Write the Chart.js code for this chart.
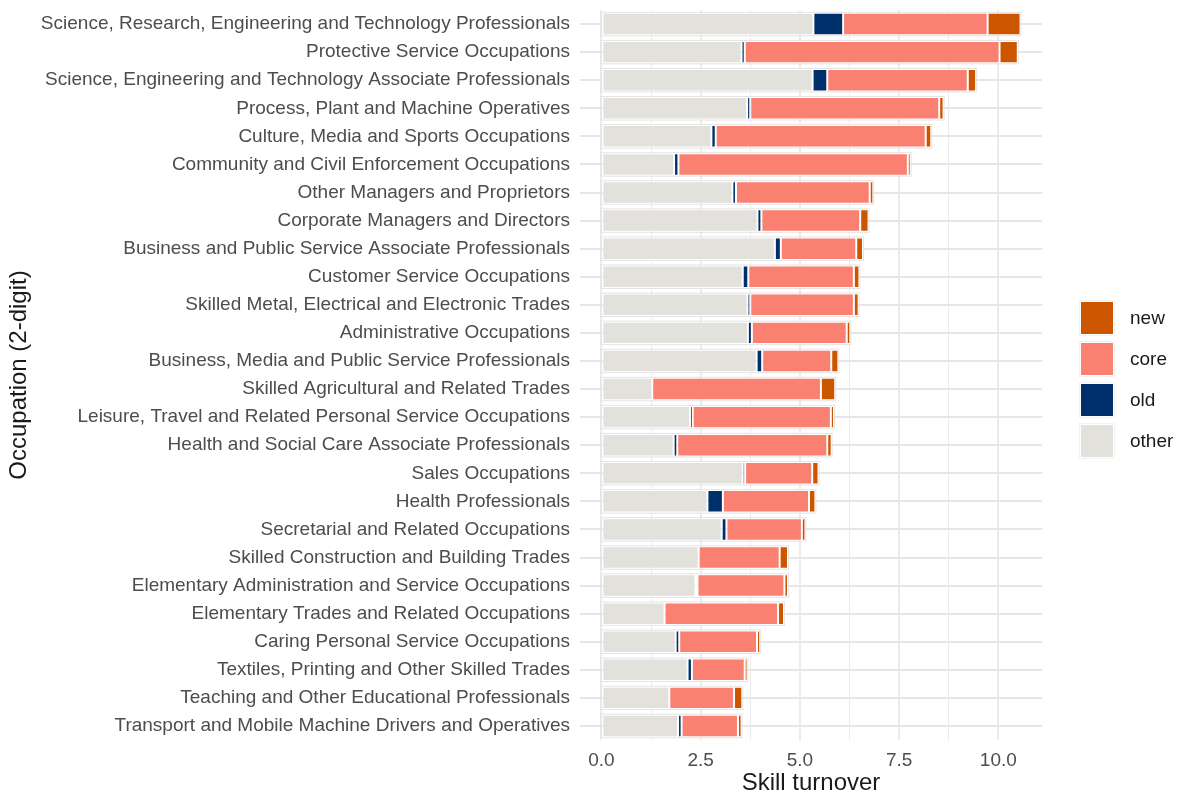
<!DOCTYPE html>
<html>
<head>
<meta charset="utf-8">
<title>Skill turnover by occupation</title>
<style>
*{padding:0;margin:0;box-sizing:border-box}
body{background:#ffffff;width:1187px;height:798px;overflow:hidden;font-family:"Liberation Sans", Arial, sans-serif}
.wrapper{position:absolute;left:0;top:0;width:1187px;height:798px}
.legend{position:absolute;left:1079px;top:300px}
.legend .item{position:relative;height:41px}
.legend .key{position:absolute;left:0;top:0;width:36px;height:36px;border:1px solid #f2f2f2;box-shadow:inset 0 0 0 1px #ffffff}
.legend .label{position:absolute;left:51px;top:0;line-height:36px;font-size:19px;color:#1a1a1a;white-space:nowrap}
</style>
</head>
<body>
<div class="wrapper">
<canvas id="myChart" width="1187" height="798"></canvas>
<div class="legend" id="legend"></div>
</div>
<script src="https://cdn.jsdelivr.net/npm/chart.js"></script>
<script>
// occupations, top to bottom
const occupations = [
  'Science, Research, Engineering and Technology Professionals',
  'Protective Service Occupations',
  'Science, Engineering and Technology Associate Professionals',
  'Process, Plant and Machine Operatives',
  'Culture, Media and Sports Occupations',
  'Community and Civil Enforcement Occupations',
  'Other Managers and Proprietors',
  'Corporate Managers and Directors',
  'Business and Public Service Associate Professionals',
  'Customer Service Occupations',
  'Skilled Metal, Electrical and Electronic Trades',
  'Administrative Occupations',
  'Business, Media and Public Service Professionals',
  'Skilled Agricultural and Related Trades',
  'Leisure, Travel and Related Personal Service Occupations',
  'Health and Social Care Associate Professionals',
  'Sales Occupations',
  'Health Professionals',
  'Secretarial and Related Occupations',
  'Skilled Construction and Building Trades',
  'Elementary Administration and Service Occupations',
  'Elementary Trades and Related Occupations',
  'Caring Personal Service Occupations',
  'Textiles, Printing and Other Skilled Trades',
  'Teaching and Other Educational Professionals',
  'Transport and Mobile Machine Drivers and Operatives',
];

const otherValues = [5.34, 3.53, 5.32, 3.67, 2.77, 1.83, 3.30, 3.93, 4.37, 3.56, 3.68, 3.69, 3.91, 1.28, 2.23, 1.82, 3.56, 2.67, 3.03, 2.45, 2.37, 1.59, 1.87, 2.17, 1.71, 1.93];
const oldValues   = [0.75, 0.08, 0.37, 0.08, 0.11, 0.11, 0.09, 0.10, 0.15, 0.14, 0.07, 0.10, 0.14, 0.00, 0.07, 0.09, 0.06, 0.39, 0.12, 0.00, 0.05, 0.00, 0.09, 0.11, 0.00, 0.09];
const coreValues  = [3.64, 6.42, 3.54, 4.76, 5.29, 5.78, 3.37, 2.49, 1.90, 2.66, 2.61, 2.39, 1.74, 4.25, 3.48, 3.78, 1.69, 2.17, 1.90, 2.04, 2.19, 2.86, 1.96, 1.33, 1.63, 1.42];
const newValues   = [0.83, 0.46, 0.21, 0.11, 0.14, 0.07, 0.09, 0.21, 0.17, 0.14, 0.12, 0.09, 0.18, 0.36, 0.08, 0.11, 0.16, 0.16, 0.09, 0.21, 0.09, 0.15, 0.08, 0.07, 0.21, 0.09];

const seriesNames = ['other', 'old', 'core', 'new'];
const seriesColors = ['#E2E1DC', '#00306B', '#FA8072', '#CC5500'];

const majorTicks = [0, 2.5, 5, 7.5, 10];
const gridTicks = [0, 1.25, 2.5, 3.75, 5, 6.25, 7.5, 8.75, 10];

const xTitle = 'Skill turnover';
const yTitle = 'Occupation (2-digit)';

const seriesValues = [otherValues, oldValues, coreValues, newValues];
const totals = occupations.map((_, i) => seriesValues.reduce((s, arr) => s + arr[i], 0));

const datasets = seriesNames.map((name, k) => ({
  label: name,
  data: seriesValues[k],
  backgroundColor: seriesColors[k],
  borderColor: '#ffffff',
  borderWidth: 1,
  borderSkipped: false,
  barPercentage: 0.8,
  categoryPercentage: 1,
}));

// faint outline round each whole bar, like the reference
const barOutline = {
  id: 'barOutline',
  afterDatasetsDraw(chart) {
    const ctx = chart.ctx;
    const xs = chart.scales.x;
    const meta = chart.getDatasetMeta(0);
    ctx.save();
    ctx.strokeStyle = '#e4e4e4';
    ctx.lineWidth = 1;
    meta.data.forEach((bar, i) => {
      const x0 = xs.getPixelForValue(0);
      const x1 = xs.getPixelForValue(totals[i]);
      const h = bar.height;
      ctx.strokeRect(x0 - 0.5, bar.y - h / 2 - 0.5, x1 - x0 + 1, h + 1);
    });
    ctx.restore();
  },
};

Chart.defaults.font.family = '"Liberation Sans", Arial, sans-serif';
Chart.defaults.animation = false;

const ctx = document.getElementById('myChart').getContext('2d');
const myChart = new Chart(ctx, {
  type: 'bar',
  data: {
    labels: occupations,
    datasets: datasets,
  },
  plugins: [barOutline],
  options: {
    indexAxis: 'y',
    responsive: false,
    animation: false,
    layout: {
      padding: { left: 0, right: 145, top: 10, bottom: 0 },
    },
    plugins: {
      legend: { display: false },
      tooltip: { enabled: false },
    },
    scales: {
      x: {
        type: 'linear',
        stacked: true,
        min: -0.54,
        max: 11.1,
        afterBuildTicks: (scale) => {
          scale.ticks = gridTicks.map(v => ({ value: v }));
        },
        afterFit: (scale) => {
          scale.height = 58;
          scale.paddingLeft = 0;
          scale.paddingRight = 0;
        },
        border: { display: false },
        grid: {
          color: '#ebebeb',
          lineWidth: (c) => (c.tick && majorTicks.includes(c.tick.value) ? 2 : 1),
          drawTicks: false,
        },
        ticks: {
          autoSkip: false,
          maxRotation: 0,
          padding: 9,
          color: '#4d4d4d',
          font: { size: 19 },
          callback: (value) => (majorTicks.includes(value) ? value.toFixed(1) : ''),
        },
        title: {
          display: true,
          text: xTitle,
          color: '#1a1a1a',
          font: { size: 24 },
          padding: { top: 0, bottom: 0 },
        },
      },
      y: {
        stacked: true,
        afterFit: (scale) => {
          scale.width = 580;
          scale.paddingTop = 0;
          scale.paddingBottom = 0;
        },
        border: { display: false },
        grid: {
          color: '#e6e6e6',
          lineWidth: 2,
          offset: false,
          drawTicks: false,
        },
        ticks: {
          autoSkip: false,
          padding: 10,
          color: '#4d4d4d',
          font: { size: 19 },
        },
        title: {
          display: true,
          text: yTitle,
          color: '#1a1a1a',
          font: { size: 24 },
          padding: { top: 5, bottom: 0 },
        },
      },
    },
  },
});

// legend, reversed like ggplot
let legendHtml = '';
for (let k = seriesNames.length - 1; k >= 0; k--) {
  legendHtml += `<div class="item"><div class="key" style="background:${seriesColors[k]}"></div><div class="label">${seriesNames[k]}</div></div>`;
}
document.getElementById('legend').innerHTML = legendHtml;
</script>
</body>
</html>
